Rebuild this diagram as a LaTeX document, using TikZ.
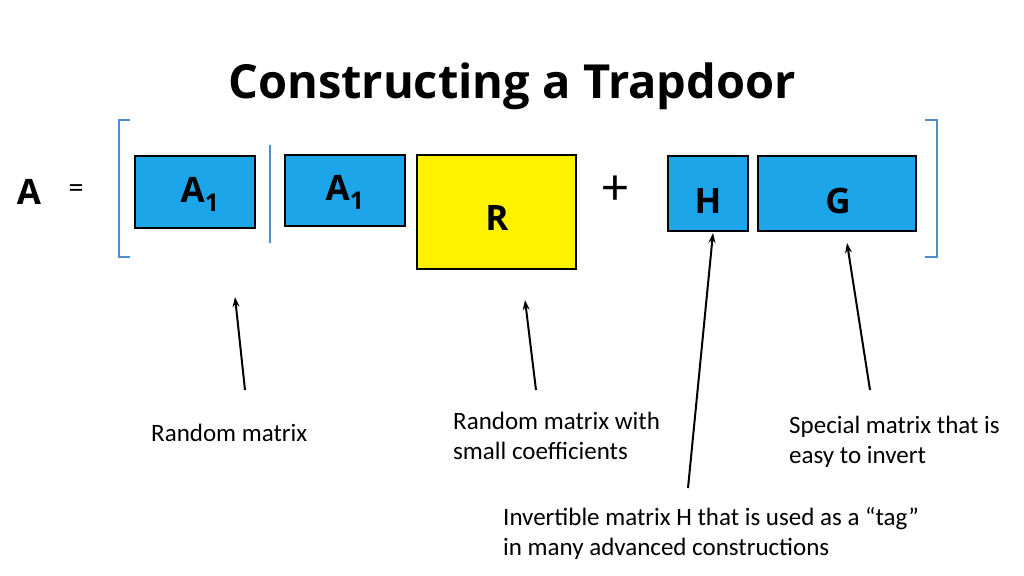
\documentclass[tikz,border=0pt]{standalone}
\usepackage{fontspec}
\usetikzlibrary{arrows.meta}
\setmainfont{Carlito}
\newfontfamily\titlefont{Open Sans}
\begin{document}
\begin{tikzpicture}[x=1pt,y=-1pt,
  mat/.style={draw=black,line width=1.3pt,fill=boxblue,inner sep=0},
  lbl/.style={font=\titlefont\bfseries\fontsize{35}{35}\selectfont},
  brk/.style={draw=brkblue,line width=2.8pt},
  arr/.style={line width=2pt,-{Stealth[length=10pt,width=7pt]}},
  txt/.style={font=\fontsize{25}{30}\selectfont,align=left,anchor=north west,inner sep=0}]
\definecolor{boxblue}{RGB}{28,165,232}
\definecolor{brkblue}{RGB}{80,140,205}
\useasboundingbox (0,0) rectangle (1024,575);
\node[font=\titlefont\bfseries\fontsize{47}{47}\selectfont] (title) at (512,86) {Constructing a Trapdoor};
\node[lbl] (A) at (29,192) {A};
\node[font=\fontsize{30}{30}\selectfont] (eq) at (76,191) {=};
\draw[brk] (130,120) -- (119,120) -- (119,257) -- (130,257);
\draw[brk] (925,120) -- (937,120) -- (937,257) -- (925,257);
\node[mat,minimum width=120,minimum height=72] (a1) at (195,192) {};
\node[lbl] at (200,194) {A\textsubscript{1}};
\coordinate (vt) at (270,145); \coordinate (vb) at (270,243);
\draw[brk,line width=1.6pt] (vt) -- (vb);
\node[mat,minimum width=120,minimum height=71] (a2) at (345,190.5) {};
\node[lbl] at (345,192) {A\textsubscript{1}};
\node[mat,fill=yellow,minimum width=159,minimum height=114] (r) at (496.5,212) {};
\node[lbl] at (497,218) {R};
\node[font=\fontsize{52}{52}\selectfont] (plus) at (615,190) {+};
\node[mat,minimum width=80,minimum height=75] (h) at (708,193.5) {};
\node[lbl] at (708,201) {H};
\node[mat,minimum width=158,minimum height=75] (g) at (837,193.5) {};
\node[lbl] at (838,201) {G};
\node[txt] (t1) at (151,424) {Random matrix};
\node[txt] (t2) at (453,412) {Random matrix with\\small coefficients};
\node[txt] (t3) at (789,416) {Special matrix that is\\easy to invert};
\node[txt] (t4) at (503,507) {Invertible matrix H that is used as a “tag”\\in many advanced constructions};
\coordinate (s1) at (245,390); \coordinate (e1) at (235,297);
\coordinate (s2) at (536,390); \coordinate (e2) at (525,300);
\coordinate (s3) at (688,488); \coordinate (e3) at (713,233);
\coordinate (s4) at (870,390); \coordinate (e4) at (847,243);
\draw[arr] (s1) -- (e1);
\draw[arr] (s2) -- (e2);
\draw[arr] (s3) -- (e3);
\draw[arr] (s4) -- (e4);
\end{tikzpicture}
\end{document}
